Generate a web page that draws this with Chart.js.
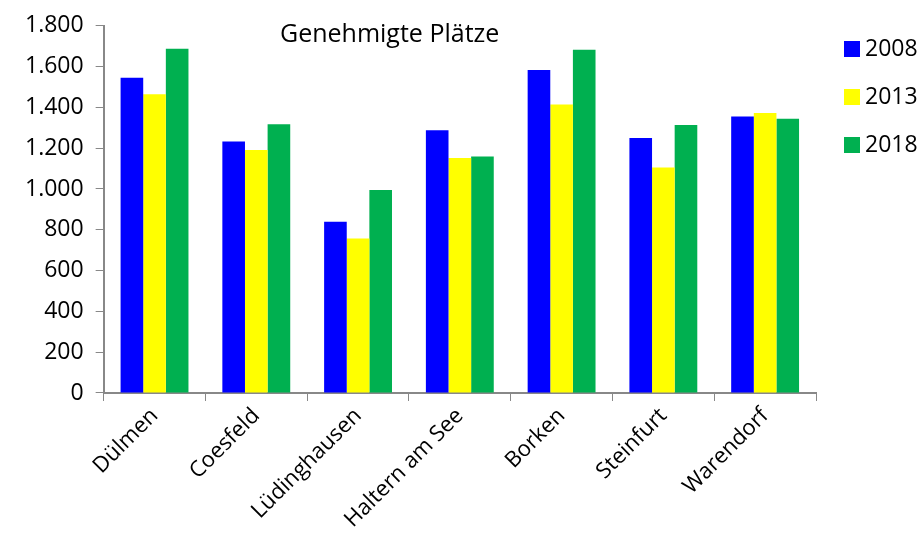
<!DOCTYPE html>
<html>
<head>
<meta charset="utf-8">
<script src="https://cdn.jsdelivr.net/npm/chart.js@4"></script>
<style>
  html, body { margin: 0; padding: 0; background: #fff; }
  #wrap { width: 922px; height: 543px; position: relative; }
</style>
</head>
<body>
<div id="wrap"><canvas id="myChart"></canvas></div>
<script>
// Genehmigte Plätze je Stadt
var kreise = ["Dülmen", "Coesfeld", "Lüdinghausen", "Haltern am See", "Borken", "Steinfurt", "Warendorf"]
var jahre = ["2008", "2013", "2018"]
var plaetze2008 = [1545, 1233, 840, 1288, 1583, 1250, 1355]
var plaetze2013 = [1465, 1191, 757, 1152, 1414, 1105, 1373]
var plaetze2018 = [1687, 1317, 995, 1159, 1682, 1314, 1344]
var farben = ["#0000ff", "#ffff00", "#00b050"]
var titel = "Genehmigte Plätze"

var schrift = "'Open Sans', sans-serif"
var grau = "#888888"

// titel + legende selbst zeichnen
var extras = {
    id: "extras",
    afterDraw: function(chart){
        var ctx = chart.ctx
        var area = chart.chartArea
        ctx.save()
        ctx.fillStyle = "#000"
        ctx.font = "25px " + schrift
        ctx.textAlign = "center"
        ctx.textBaseline = "middle"
        ctx.fillText(titel, area.left + 286, 35)

        ctx.font = "23px " + schrift
        ctx.textAlign = "left"
        chart.data.datasets.forEach(function(ds, i){
            var y = 49 + i * 48
            ctx.fillStyle = ds.backgroundColor
            ctx.fillRect(area.right + 28, y - 8, 16, 16)
            ctx.fillStyle = "#000"
            ctx.fillText(ds.label, area.right + 49, y)
        })
        ctx.restore()
    }
}

var myChart = document.getElementById("myChart").getContext('2d')

var chart = new Chart(myChart, {
    type: 'bar',
    data: {
        labels: kreise,
        datasets: [
            { label: jahre[0], data: plaetze2008, backgroundColor: farben[0] },
            { label: jahre[1], data: plaetze2013, backgroundColor: farben[1] },
            { label: jahre[2], data: plaetze2018, backgroundColor: farben[2] }
        ]
    },
    options: {
        responsive: true,
        maintainAspectRatio: false,
        animation: false,
        layout: { padding: { top: 4, right: 106, bottom: 8, left: 13 } },
        datasets: { bar: { categoryPercentage: 0.667, barPercentage: 1.0 } },
        plugins: {
            legend: { display: false },
            title: { display: false },
            tooltip: { enabled: false }
        },
        scales: {
            x: {
                grid: { drawOnChartArea: false, drawTicks: true, tickLength: 8, color: grau, offset: true },
                border: { color: grau, width: 2 },
                ticks: {
                    color: "#000",
                    font: { family: schrift, size: 22 },
                    minRotation: 45,
                    maxRotation: 45,
                    autoSkip: false,
                    padding: 2
                }
            },
            y: {
                min: 0,
                max: 1800,
                grid: { drawOnChartArea: false, drawTicks: true, tickLength: 8, color: grau },
                border: { color: grau, width: 2 },
                ticks: {
                    stepSize: 200,
                    color: "#000",
                    font: { family: schrift, size: 23 },
                    padding: 12,
                    callback: function(v){ return v.toLocaleString("de-DE") }
                }
            }
        }
    },
    plugins: [extras]
})
</script>
</body>
</html>
